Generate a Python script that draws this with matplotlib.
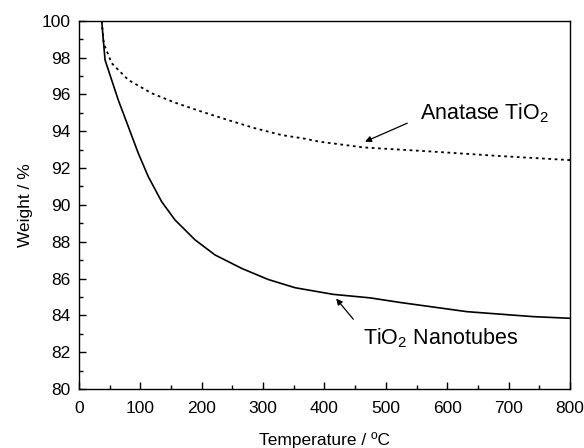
import matplotlib
matplotlib.use("Agg")
import matplotlib.pyplot as plt
from matplotlib.ticker import MultipleLocator

plt.rcParams['font.family'] = ['Liberation Sans', 'DejaVu Sans']
plt.rcParams['mathtext.fontset'] = 'custom'
plt.rcParams['mathtext.rm'] = 'Liberation Sans'
plt.rcParams['mathtext.it'] = 'Liberation Sans:italic'

# Data
nano_T = [37, 39.6, 42.4, 50.5, 64, 80.4, 96.6, 112.9, 134.7, 156.4, 189, 221.6,
          265, 308, 352, 414, 474, 523, 632, 740, 800]
nano_W = [100, 98.95, 97.87, 97.05, 95.69, 94.24, 92.8, 91.53, 90.17, 89.18, 88.1, 87.28,
          86.55, 85.95, 85.5, 85.14, 84.95, 84.7, 84.2, 83.93, 83.84]

anat_T = [37, 39.6, 42.4, 53.3, 80.4, 118.4, 156.4, 200, 243.3, 286.8, 330, 365,
          392, 463, 577, 686, 800]
anat_W = [100, 98.95, 98.59, 97.69, 96.78, 96.06, 95.55, 95.06, 94.6, 94.16, 93.79, 93.61,
          93.43, 93.12, 92.89, 92.65, 92.43]

x_ticks = [0, 100, 200, 300, 400, 500, 600, 700, 800]
y_ticks = [80, 82, 84, 86, 88, 90, 92, 94, 96, 98, 100]

fig = plt.figure(figsize=(5.84, 4.48), dpi=100)
ax = fig.add_axes([0.1353, 0.1317, 0.8407, 0.8221])

ax.plot(nano_T, nano_W, color='black', lw=1.2, solid_joinstyle='round')
ax.plot(anat_T, anat_W, color='black', lw=1.3, linestyle=(0, (1.5, 2.0)))

ax.set_xlim(0, 800)
ax.set_ylim(80, 100)
ax.set_xticks(x_ticks)
ax.set_yticks(y_ticks)
ax.xaxis.set_minor_locator(MultipleLocator(50))
ax.yaxis.set_minor_locator(MultipleLocator(1))
ax.tick_params(which='both', direction='in', top=False, right=False,
               labelsize=12.5, width=1.0)
ax.tick_params(axis='x', which='major', pad=9)
ax.tick_params(axis='y', which='major', pad=6)
ax.tick_params(which='major', length=5)
ax.tick_params(which='minor', length=3)
for s in ax.spines.values():
    s.set_linewidth(1.0)

ax.set_xlabel('Temperature / ºC', fontsize=12.5, labelpad=11)
ax.set_ylabel('Weight / %', fontsize=12.5, labelpad=6)

ax.annotate('Anatase TiO$_2$', xy=(466, 93.43), xytext=(556, 95.0),
            fontsize=15.5, va='center', ha='left',
            arrowprops=dict(arrowstyle='-|>', color='black', lw=0.9,
                            mutation_scale=9, shrinkA=8, shrinkB=0,
                            relpos=(0, 0.3)))
ax.annotate('TiO$_2$ Nanotubes', xy=(419, 84.91), xytext=(463, 82.76),
            fontsize=15.5, va='center', ha='left',
            arrowprops=dict(arrowstyle='-|>', color='black', lw=0.9,
                            mutation_scale=9, shrinkA=8, shrinkB=0,
                            relpos=(0, 0.8)))

fig.savefig('out.png', dpi=100)
